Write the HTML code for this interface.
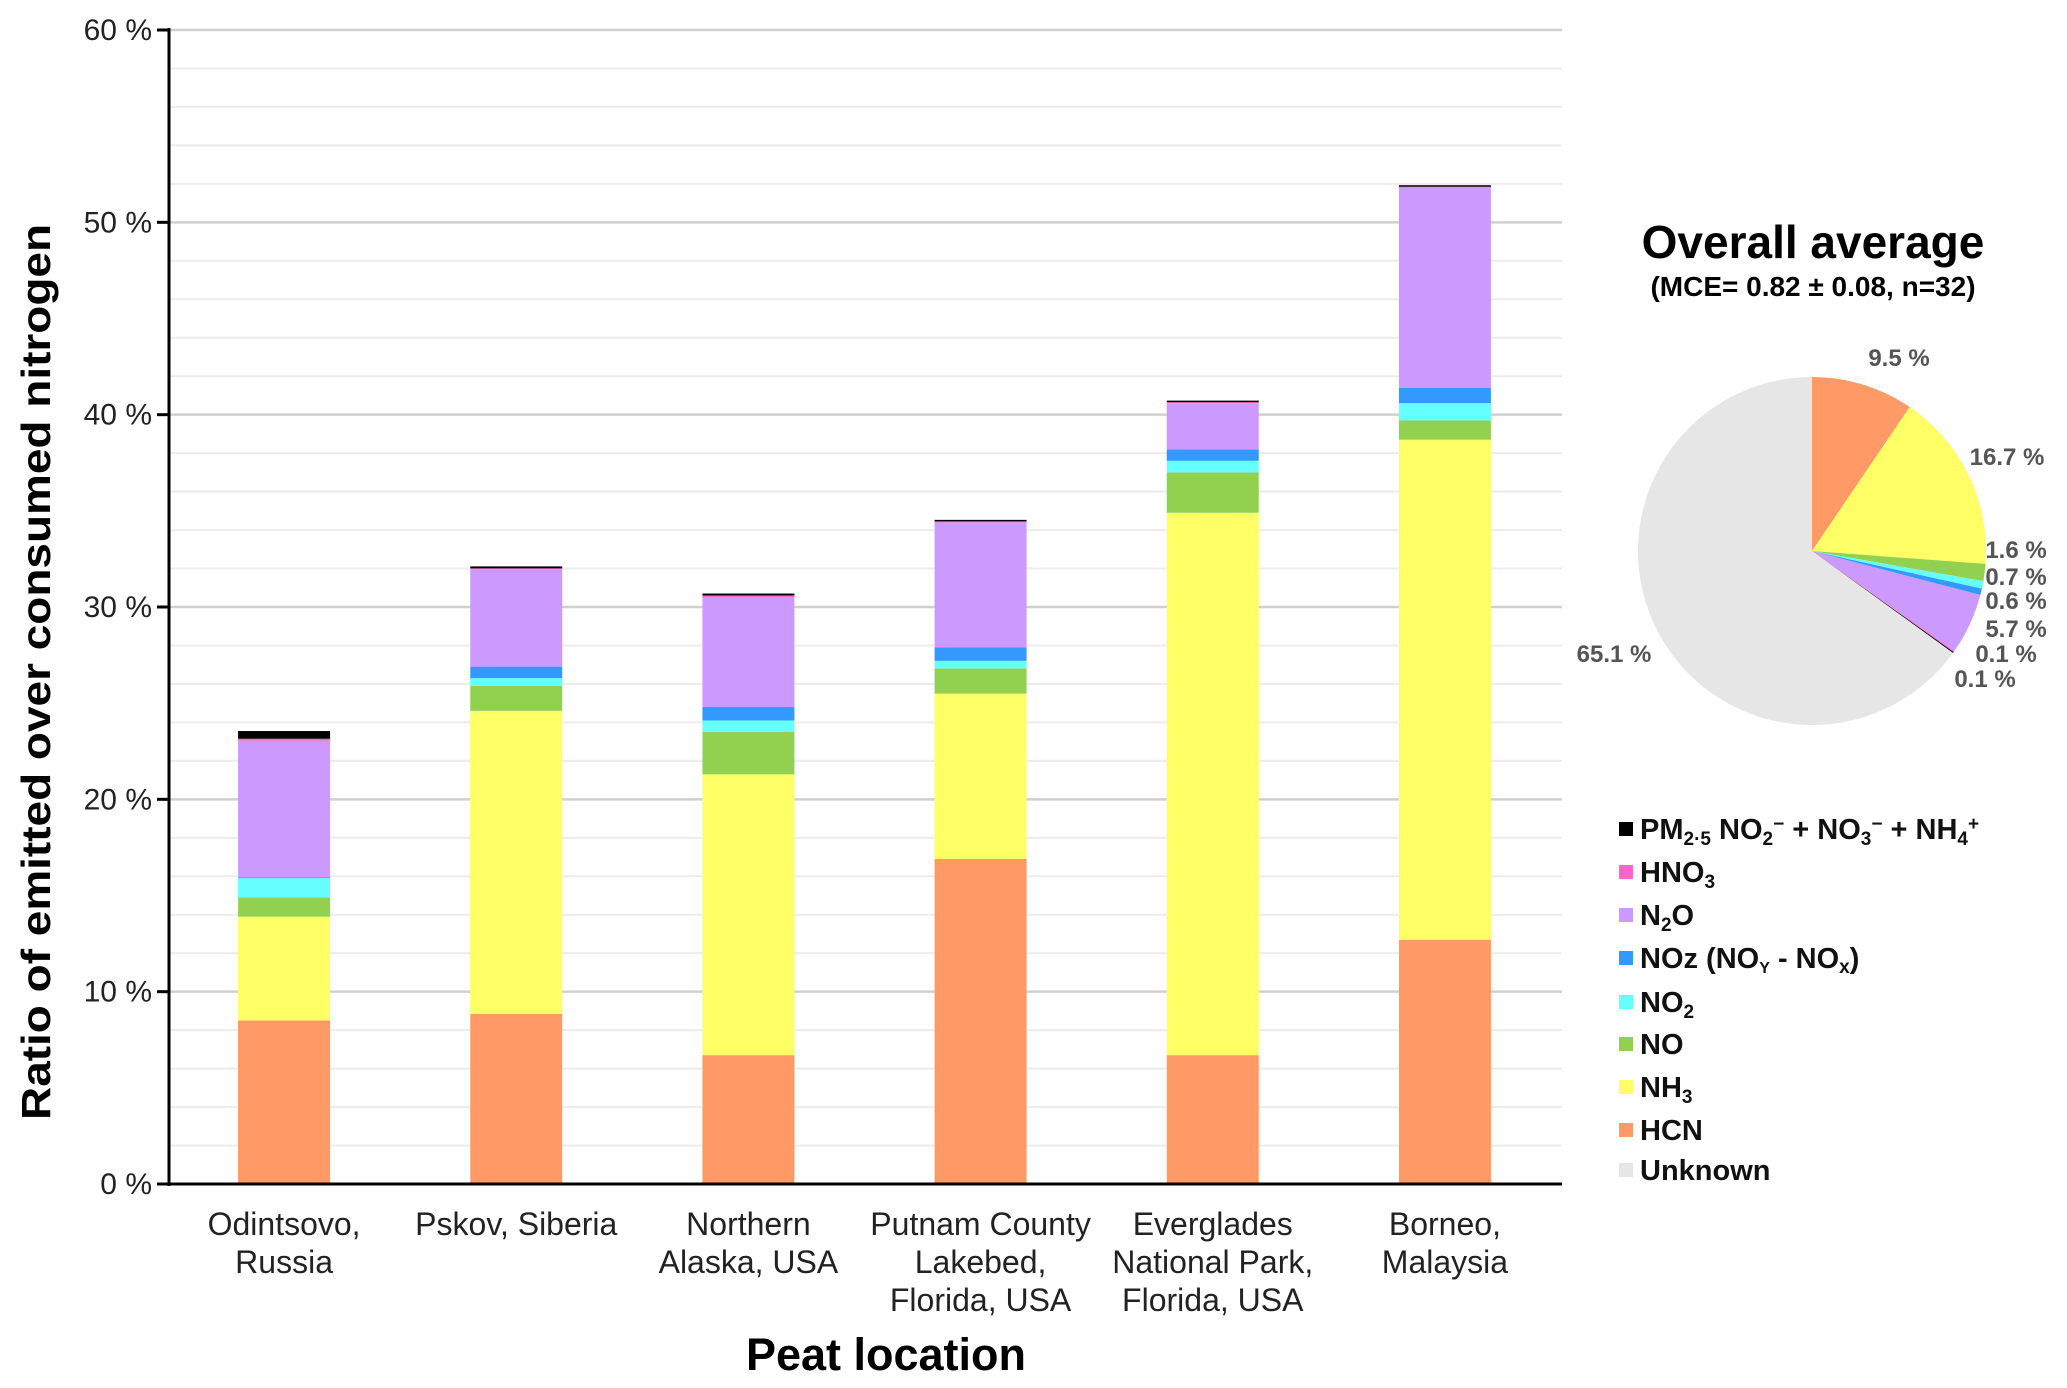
<!DOCTYPE html>
<html><head><meta charset="utf-8"><style>
html,body{margin:0;padding:0;background:#fff;}
svg{display:block;font-family:"Liberation Sans",Arial,sans-serif;}
</style></head><body>
<svg id="chart" width="2067" height="1388" viewBox="0 0 2067 1388" xmlns="http://www.w3.org/2000/svg">
<g id="grid"></g>
<g id="bars"></g>
<g id="axes"></g>
<text x="0" y="0" transform="translate(50,672) rotate(-90)" text-anchor="middle" font-size="41" font-weight="bold" textLength="896" lengthAdjust="spacingAndGlyphs">Ratio of emitted over consumed nitrogen</text>
<text x="886" y="1370" text-anchor="middle" font-size="45" font-weight="bold">Peat location</text>
<g id="pie"></g>
<text x="1813" y="258" text-anchor="middle" font-size="46" font-weight="bold">Overall average</text>
<text x="1813" y="296" text-anchor="middle" font-size="28" font-weight="bold">(MCE= 0.82 ± 0.08, n=32)</text>
<g id="legend" font-size="29" font-weight="bold"></g>
</svg>
<script>
const categories = [["Odintsovo,","Russia"],["Pskov, Siberia"],["Northern","Alaska, USA"],["Putnam County","Lakebed,","Florida, USA"],["Everglades","National Park,","Florida, USA"],["Borneo,","Malaysia"]];
const seriesNames = ["HCN","NH3","NO","NO2","NOz","N2O","HNO3","PM"];
const hcn  = [8.5, 8.85, 6.7, 16.9, 6.7, 12.7];
const nh3  = [5.4, 15.75, 14.6, 8.6, 28.2, 26.0];
const no   = [1.0, 1.3, 2.2, 1.3, 2.1, 1.0];
const no2  = [1.0, 0.4, 0.6, 0.4, 0.6, 0.9];
const noz  = [0.05, 0.6, 0.7, 0.7, 0.6, 0.8];
const n2o  = [7.1, 5.06, 5.7, 6.5, 2.4, 10.4];
const hno3 = [0.1, 0.05, 0.1, 0.05, 0.05, 0.05];
const pm   = [0.4, 0.1, 0.1, 0.08, 0.08, 0.08];
const yTicks = [0,10,20,30,40,50,60];
const yTickLabels = ["0 %","10 %","20 %","30 %","40 %","50 %","60 %"];
const pieValues = [9.5, 16.7, 1.6, 0.7, 0.6, 5.7, 0.1, 0.1, 65.1];
const pieLabels = ["9.5 %","16.7 %","1.6 %","0.7 %","0.6 %","5.7 %","0.1 %","0.1 %","65.1 %"];

const colors = ["#ff9966","#ffff66","#92d050","#66ffff","#3399ff","#cc99ff","#ff66cc","#000000","#e6e6e6"];
const NS="http://www.w3.org/2000/svg";
function mk(tag,attrs,parent){const e=document.createElementNS(NS,tag);for(const k in attrs)e.setAttribute(k,attrs[k]);parent.appendChild(e);return e;}
const X0=169,X1=1562,Y0=1184,Ytop=30,YMAX=60;
const y=v=>Y0-(v/YMAX)*(Y0-Ytop);
const step=(X1-X0)/categories.length;
const xc=i=>X0+step*(i+0.5)-1;
const BW=92;

const grid=document.getElementById('grid');
for(let v=2;v<=60;v+=2){
  const major=v%10===0;
  const l=mk('line',{x1:X0,x2:X1,y1:y(v),y2:y(v),stroke:major?'#d0d0d0':'#ececec','stroke-width':major?2.5:2},grid);
  
  
}
const axes=document.getElementById('axes');
const ya=mk('line',{x1:X0,x2:X0,y1:Ytop-2,y2:Y0+2,stroke:'#000','stroke-width':3},axes);


const xa=mk('line',{x1:X0-12,x2:X1,y1:Y0,y2:Y0,stroke:'#000','stroke-width':3},axes);


yTicks.forEach((v,i)=>{
  const t=mk('line',{x1:X0-12,x2:X0,y1:y(v),y2:y(v),stroke:'#000','stroke-width':3},axes);
  
  
  const tx=mk('text',{x:X0-17,y:y(v)+10,'text-anchor':'end','font-size':30,fill:'#222'},axes);
  tx.textContent=yTickLabels[i];
  
  
});
categories.forEach((lines,i)=>{
  lines.forEach((s,j)=>{
    const t=mk('text',{x:xc(i),y:1235+j*38,'text-anchor':'middle','font-size':32,fill:'#222'},axes);
    t.textContent=s;
    
    
  });
});

const series=[hcn,nh3,no,no2,noz,n2o,hno3,pm];
const bars=document.getElementById('bars');
categories.forEach((c,i)=>{
  let acc=0;
  series.forEach((s,k)=>{
    const v=s[i];
    const r=mk('rect',{x:xc(i)-BW/2,y:y(acc+v),width:BW,height:y(acc)-y(acc+v),fill:colors[k]},bars);
    
    
    acc+=v;
  });
});

const pie=document.getElementById('pie');
const cx=1812,cy=551,R=174;
const total=pieValues.reduce((a,b)=>a+b,0);
let ang=0;
pieValues.forEach((v,k)=>{
  const a0=ang, a1=ang+v/total*2*Math.PI; ang=a1;
  const p0=[cx+R*Math.sin(a0),cy-R*Math.cos(a0)], p1=[cx+R*Math.sin(a1),cy-R*Math.cos(a1)];
  const large=(a1-a0)>Math.PI?1:0;
  const p=mk('path',{d:`M${cx},${cy} L${p0[0]},${p0[1]} A${R},${R} 0 ${large} 1 ${p1[0]},${p1[1]} Z`,fill:colors[k]},pie);
  
  
});
const labelPos=[[1899,358],[2007,457],[2016,550],[2016,577],[2016,601],[2016,629],[2006,654],[1985,679],[1614,654]];
pieLabels.forEach((s,k)=>{
  const t=mk('text',{x:labelPos[k][0],y:labelPos[k][1]+8,'text-anchor':'middle','font-size':24,'font-weight':'bold',fill:'#555'},pie);
  t.textContent=s;
  
  
});

const legendHTML=[
 'PM<tspan font-size="19" dy="6">2·5</tspan><tspan dy="-6"> NO</tspan><tspan font-size="19" dy="6">2</tspan><tspan font-size="19" dy="-15">−</tspan><tspan dy="9"> + NO</tspan><tspan font-size="19" dy="6">3</tspan><tspan font-size="19" dy="-15">−</tspan><tspan dy="9"> + NH</tspan><tspan font-size="19" dy="6">4</tspan><tspan font-size="19" dy="-15">+</tspan>',
 'HNO<tspan font-size="19" dy="6">3</tspan>',
 'N<tspan font-size="19" dy="6">2</tspan><tspan dy="-6">O</tspan>',
 'NOz  (NO<tspan font-size="16" dy="5">Y</tspan><tspan dy="-5"> - NO</tspan><tspan font-size="19" dy="5">x</tspan><tspan dy="-5">)</tspan>',
 'NO<tspan font-size="19" dy="6">2</tspan>',
 'NO',
 'NH<tspan font-size="19" dy="6">3</tspan>',
 'HCN',
 'Unknown'];
const legendColors=["#000000","#ff66cc","#cc99ff","#3399ff","#66ffff","#92d050","#ffff66","#ff9966","#e6e6e6"];
const legendY=[829,872,915,958,1002,1044,1087,1130,1170];
const legend=document.getElementById('legend');
legendHTML.forEach((h,k)=>{
  const g=mk('g',{},legend);
  
  
  mk('rect',{x:1619,y:legendY[k]-7,width:14,height:14,fill:legendColors[k]},g);
  const t=mk('text',{x:1640,y:legendY[k]+10,fill:'#111'},g);
  t.innerHTML=h;
});
</script>
</body></html>
